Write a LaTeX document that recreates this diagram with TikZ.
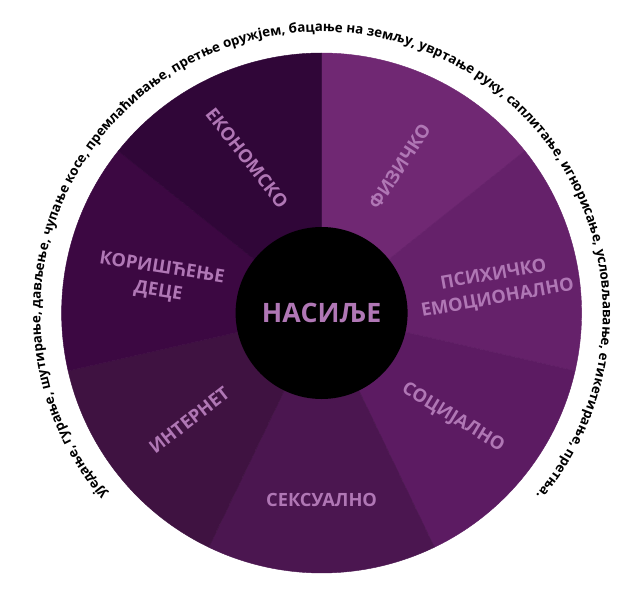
\documentclass[tikz,border=0pt]{standalone}
\usepackage{fontspec}
\setmainfont{Open Sans}
\usepackage{xcolor}
\usepackage{tikz}
\usetikzlibrary{decorations.text}

\definecolor{fizcol}{HTML}{702873}
\definecolor{psihcol}{HTML}{65216A}
\definecolor{soccol}{HTML}{5C1B62}
\definecolor{sekscol}{HTML}{4B1650}
\definecolor{intcol}{HTML}{3F1241}
\definecolor{decacol}{HTML}{3C0842}
\definecolor{ekocol}{HTML}{300638}
\definecolor{labelpink}{HTML}{B077B5}

\begin{document}
\begin{tikzpicture}[
  line join=round,
  sector/.style={line width=0.3pt},
  sectorlabel/.style={text=labelpink,font=\bfseries\fontsize{13}{17}\selectfont,align=center},
  hub/.style={circle,fill=black,minimum size=4.3cm,inner sep=0pt,
    text=labelpink,font=\bfseries\fontsize{19}{22}\selectfont}
]
\path[use as bounding box] (-8.04,-7.175) rectangle (7.86,7.825);

% seven equal sectors, clockwise from the top
\filldraw[sector,fizcol]  (0,0) -- (90:6.5)      arc[start angle=90,end angle=38.571,radius=6.5] -- cycle;
\filldraw[sector,psihcol] (0,0) -- (38.571:6.5)  arc[start angle=38.571,end angle=-12.857,radius=6.5] -- cycle;
\filldraw[sector,soccol]  (0,0) -- (-12.857:6.5) arc[start angle=-12.857,end angle=-64.286,radius=6.5] -- cycle;
\filldraw[sector,sekscol] (0,0) -- (-64.286:6.5) arc[start angle=-64.286,end angle=-115.714,radius=6.5] -- cycle;
\filldraw[sector,intcol]  (0,0) -- (-115.714:6.5) arc[start angle=-115.714,end angle=-167.143,radius=6.5] -- cycle;
\filldraw[sector,decacol] (0,0) -- (-167.143:6.5) arc[start angle=-167.143,end angle=-218.571,radius=6.5] -- cycle;
\filldraw[sector,ekocol]  (0,0) -- (141.429:6.5) arc[start angle=141.429,end angle=90,radius=6.5] -- cycle;

\node[hub] (hub) at (0,0) {НАСИЉЕ};

\node[sectorlabel,rotate=57]  (fizicko)  at (62:4.15)   {ФИЗИЧКО};
\node[sectorlabel,rotate=10]  (psihicko) at (8.5:4.4)   {ПСИХИЧКО\\ЕМОЦИОНАЛНО};
\node[sectorlabel,rotate=-31] (socijalno) at (-38.6:4.2) {СОЦИЈАЛНО};
\node[sectorlabel]            (seksualno) at (-90:4.68) {СЕКСУАЛНО};
\node[sectorlabel,rotate=38]  (internet) at (-141:4.26)  {ИНТЕРНЕТ};
\node[sectorlabel,rotate=-9]  (deca)     at (168.5:4.12) {КОРИШЋЕЊЕ\\ДЕЦЕ};
\node[sectorlabel,rotate=-52] (ekonomsko) at (115.7:4.3) {ЕКОНОМСКО};

% list of acts round the wheel
\path[decorate,decoration={text along path,text align=center,
  text={|\bfseries\fontsize{9.5}{11}\selectfont|уједање, гурање, шутирање, дављење, чупање косе, премлаћивање, претње оружјем, бацање на земљу, увртање руку, саплитање, игнорисање, условљавање, етикетирање, претња.}}]
  (232:7.03) arc[start angle=232,end angle=-52,radius=7.03];
\end{tikzpicture}
\end{document}
